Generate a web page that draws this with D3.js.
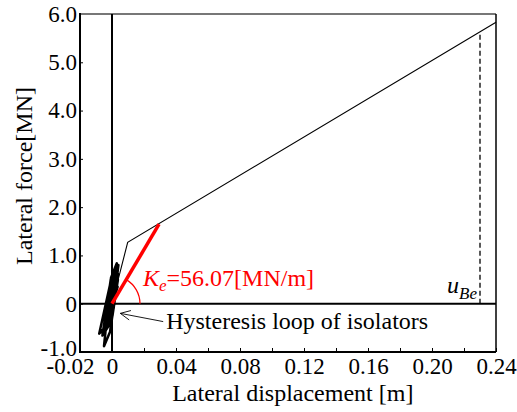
<!DOCTYPE html>
<html>
<head>
<meta charset="utf-8">
<script src="https://cdn.jsdelivr.net/npm/d3@7"></script>
<style>
  body { margin: 0; background: #fff; }
  svg { display: block; }
  svg text { font-family: "Liberation Serif", Tinos, "Times New Roman", Times, "DejaVu Serif", serif; }
</style>
</head>
<body>
<svg width="517" height="412"></svg>
<script>
// bilinear model of the isolation layer
const bilinearDisp = [0, 0.0098, 0.24];
const bilinearForce = [0, 1.27, 5.83];

// equivalent stiffness line
const keValue = 56.07;
const keDisp = [0, 0.0294];

// design displacement u_Be
const uBeDisp = 0.230;
const uBeForce = 5.63;

// hysteresis loop of isolators
const hystDisp = [0, 0.0030, -0.0028, -0.0048, 0.0010, 0.0038, -0.0016, -0.0060, -0.0002, 0.0040,
  -0.0008, -0.0059, -0.0002, 0.0030, -0.0006, -0.0050, -0.0012, 0.0036, -0.0012, -0.0080,
  -0.0002, 0.0037, -0.0021, -0.0055, 0.0003, 0.0034, -0.0023, -0.0046, 0.0012, 0.0025,
  -0.0032, -0.0039, 0.0000, 0.0026, -0.0018, -0.0044, 0.0004, 0.0034, -0.0010, -0.0052,
  -0.0006, 0.0030, 0.0000, -0.0036, -0.0050, 0.0008, 0.0035, -0.0004, -0.0040, 0.0000];
const hystForce = [0, 0.35, 0.05, -0.40, -0.10, 0.62, 0.32, -0.66, -0.36, 0.80,
  0.50, -0.65, -0.35, 0.84, 0.54, -0.88, -0.58, 0.70, 0.40, -0.62,
  -0.35, 0.50, 0.20, -0.55, -0.25, 0.45, 0.15, -0.35, -0.05, 0.25,
  -0.05, -0.20, 0.00, 0.40, 0.12, -0.45, -0.15, 0.55, 0.30, -0.50,
  -0.25, 0.60, 0.45, -0.10, -0.30, 0.05, 0.35, 0.10, -0.30, 0.00];

const xTicks = [-0.02, 0, 0.02, 0.04, 0.06, 0.08, 0.10, 0.12, 0.14, 0.16, 0.18, 0.20, 0.22, 0.24];
const xTickLabels = {"-0.02": "-0.02", "0": "0", "0.04": "0.04", "0.08": "0.08", "0.12": "0.12",
  "0.16": "0.16", "0.2": "0.20", "0.24": "0.24"};
const yTicks = [-1, 0, 1, 2, 3, 4, 5, 6];
const yTickLabels = ["-1.0", "0", "1.0", "2.0", "3.0", "4.0", "5.0", "6.0"];

const svg = d3.select("svg");
const margin = {top: 14, right: 21, bottom: 60, left: 80},
      width = 517 - margin.left - margin.right,
      height = 412 - margin.top - margin.bottom;

const g = svg.append("g")
    .attr("transform", `translate(${margin.left},${margin.top})`);

const x = d3.scaleLinear().domain([-0.02, 0.24]).range([0, width]);
const y = d3.scaleLinear().domain([-1, 6]).range([height, 0]);

// axes: inward ticks, labels outside
const xAxis = g.append("g")
    .attr("transform", `translate(0,${height})`)
    .call(d3.axisBottom(x)
        .tickValues(xTicks)
        .tickSizeInner(-4).tickSizeOuter(0).tickPadding(6)
        .tickFormat(d => xTickLabels[String(+d.toFixed(2))] || ""));
xAxis.attr("font-family", null).attr("font-size", 23);
xAxis.select(".domain").remove();
xAxis.selectAll("text").attr("fill", "#000");
xAxis.selectAll("text").filter(d => d === -0.02).attr("text-anchor", "end").attr("dx", 14);
xAxis.selectAll("line").attr("stroke", "#000");

const yAxis = g.append("g")
    .call(d3.axisLeft(y)
        .tickValues(yTicks)
        .tickSizeInner(-3).tickSizeOuter(0).tickPadding(3)
        .tickFormat((d, i) => yTickLabels[i]));
yAxis.attr("font-family", null).attr("font-size", 23);
yAxis.select(".domain").remove();
yAxis.selectAll("text").attr("fill", "#000");
yAxis.selectAll("text").filter(d => d === -1).attr("y", -4);
yAxis.selectAll("line").attr("stroke", "#000");

// frame
g.append("line").attr("x1", 0).attr("x2", width).attr("y1", 0).attr("y2", 0)
    .attr("stroke", "#777").attr("stroke-width", 2);
g.append("line").attr("x1", 0).attr("x2", 0).attr("y1", -1).attr("y2", height + 1)
    .attr("stroke", "#000").attr("stroke-width", 2);
g.append("line").attr("x1", width).attr("x2", width).attr("y1", 0).attr("y2", height)
    .attr("stroke", "#000").attr("stroke-width", 1.5);
g.append("line").attr("x1", 0).attr("x2", width).attr("y1", height).attr("y2", height)
    .attr("stroke", "#000").attr("stroke-width", 2);

// zero lines
g.append("line").attr("x1", 0).attr("x2", width).attr("y1", y(0)).attr("y2", y(0))
    .attr("stroke", "#000").attr("stroke-width", 2);
g.append("line").attr("x1", x(0)).attr("x2", x(0)).attr("y1", 0).attr("y2", height)
    .attr("stroke", "#000").attr("stroke-width", 2);

const line = d3.line().x(d => x(d[0])).y(d => y(d[1]));

// hysteresis loop
g.append("path")
    .datum(hystDisp.map((d, i) => [d, hystForce[i]]))
    .attr("d", line)
    .attr("fill", "none").attr("stroke", "#000").attr("stroke-width", 2.5)
    .attr("stroke-linejoin", "round");

// bilinear
g.append("path")
    .datum(bilinearDisp.map((d, i) => [d, bilinearForce[i]]))
    .attr("d", line)
    .attr("fill", "none").attr("stroke", "#000").attr("stroke-width", 1.1);

// u_Be dashed
g.append("line")
    .attr("x1", x(uBeDisp)).attr("x2", x(uBeDisp))
    .attr("y1", y(0)).attr("y2", y(uBeForce))
    .attr("stroke", "#000").attr("stroke-width", 1.3).attr("stroke-dasharray", "5,3");

// Ke line
g.append("path")
    .datum(keDisp.map(d => [d, d * keValue]))
    .attr("d", line)
    .attr("fill", "none").attr("stroke", "#ff0000").attr("stroke-width", 3.5);

// angle arc
const r = 28;
const ang = Math.atan2(y(0) - y(keDisp[1] * keValue), x(keDisp[1]) - x(0));
const arc = d3.path();
arc.moveTo(x(0) + r, y(0));
arc.arc(x(0), y(0), r, 0, -ang, true);
g.append("path").attr("d", arc.toString())
    .attr("fill", "none").attr("stroke", "#ff0000").attr("stroke-width", 1.2);

// Ke label
const keText = g.append("text")
    .attr("x", 63).attr("y", 272)
    .attr("font-size", 24).attr("fill", "#ff0000");
keText.append("tspan").attr("font-style", "italic").text("K");
keText.append("tspan").attr("font-style", "italic").attr("font-size", 17).attr("dy", 5).text("e");
keText.append("tspan").attr("dy", -5).text("=" + keValue.toFixed(2) + "[MN/m]");

// u_Be label
const uText = g.append("text")
    .attr("x", 367).attr("y", 279)
    .attr("font-size", 24).attr("fill", "#000");
uText.append("tspan").attr("font-style", "italic").text("u");
uText.append("tspan").attr("font-style", "italic").attr("font-size", 17).attr("dy", 6).text("Be");

// hysteresis annotation
const tip = [x(0.0052), y(-0.2)];
const tail = [x(0.032), y(-0.37)];
g.append("line")
    .attr("x1", tail[0]).attr("y1", tail[1]).attr("x2", tip[0]).attr("y2", tip[1])
    .attr("stroke", "#000").attr("stroke-width", 0.9);
const da = Math.atan2(tail[1] - tip[1], tail[0] - tip[0]);
[-0.45, 0.45].forEach(s => {
    g.append("line")
        .attr("x1", tip[0]).attr("y1", tip[1])
        .attr("x2", tip[0] + 11 * Math.cos(da + s)).attr("y2", tip[1] + 11 * Math.sin(da + s))
        .attr("stroke", "#000").attr("stroke-width", 0.9);
});
g.append("text")
    .attr("x", tail[0] + 3).attr("y", 315)
    .attr("font-size", 24).attr("fill", "#000")
    .text("Hysteresis loop of isolators");

// axis titles
svg.append("text")
    .attr("x", margin.left + x(0.113)).attr("y", 401)
    .attr("text-anchor", "middle").attr("font-size", 24)
    .text("Lateral displacement [m]");
svg.append("text")
    .attr("transform", "translate(32,176) rotate(-90)")
    .attr("text-anchor", "middle").attr("font-size", 24)
    .text("Lateral force[MN]");
</script>
</body>
</html>
